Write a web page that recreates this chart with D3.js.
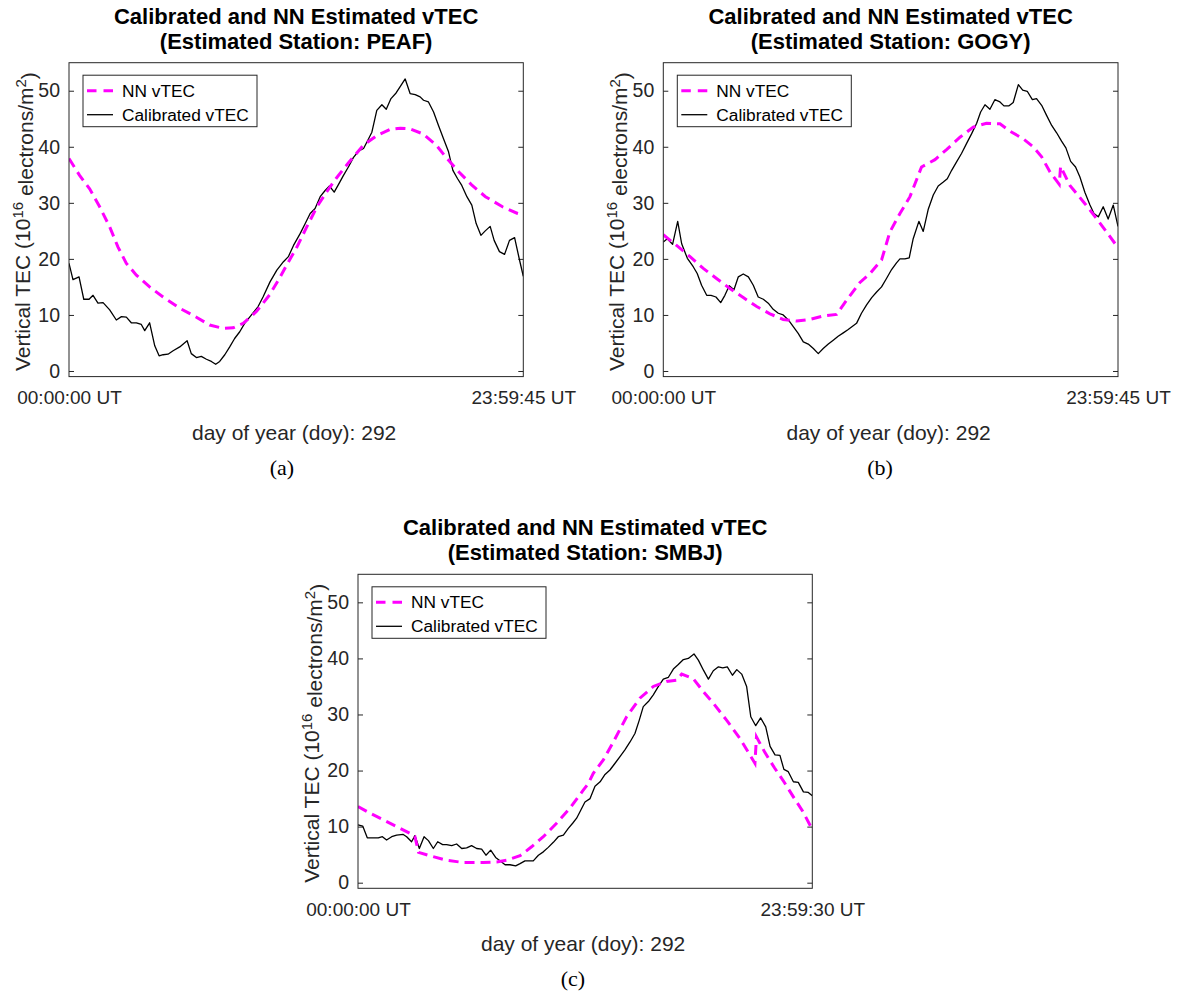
<!DOCTYPE html>
<html>
<head>
<meta charset="utf-8">
<script src="https://cdn.jsdelivr.net/npm/d3@7"></script>
<style>
  html, body { margin: 0; padding: 0; background: #fff; }
  svg { display: block; }
  text { font-family: "Liberation Sans", Arial, Helvetica, sans-serif; }
</style>
</head>
<body>
<svg id="chart" width="1177" height="999"></svg>
<script>
// ---------------- DATA ----------------
const yTicks = [0, 10, 20, 30, 40, 50];
const xTickLabelsAB = ["00:00:00 UT", "23:59:45 UT"];
const xTickLabelsC = ["00:00:00 UT", "23:59:30 UT"];
const titleLine1 = "Calibrated and NN Estimated vTEC";
const stations = ["PEAF", "GOGY", "SMBJ"];
const captions = ["(a)", "(b)", "(c)"];
const xLabel = "day of year (doy): 292";
const legendLabels = ["NN vTEC", "Calibrated vTEC"];

// Panel (a) PEAF - hours of day / vTEC
const aNNHour = [0, 0.56, 1.09, 1.62, 2.15, 2.59, 3.03, 3.56, 4.26, 4.97, 5.85, 6.73, 7.43, 8.14, 8.67, 9.2, 9.9, 10.6, 11.13, 11.5, 12.04, 12.56, 13.1, 13.6, 14.1, 14.8, 15.56, 16.26, 16.96, 17.5, 18.0, 18.7, 19.4, 19.9, 20.6, 21.3, 22.0, 22.9, 23.7, 24];
const aNNVal = [37.9, 34.9, 32.5, 29.3, 25.7, 22.1, 19.2, 17.1, 15.0, 13.2, 11.2, 9.6, 8.2, 7.6, 7.7, 8.5, 10.6, 13.6, 16.6, 18.9, 22.1, 25.7, 29.3, 31.9, 34.3, 37.3, 40.3, 42.0, 43.1, 43.3, 43.2, 42.3, 40.3, 38.2, 35.5, 33.1, 31.1, 29.3, 28.1, 27.8];
const aCalHour = [0, 0.21, 0.53, 0.78, 1.06, 1.27, 1.53, 1.8, 2.15, 2.5, 2.77, 3.03, 3.29, 3.56, 3.82, 4.0, 4.26, 4.53, 4.76, 4.97, 5.23, 5.5, 5.85, 6.24, 6.46, 6.73, 6.99, 7.26, 7.52, 7.75, 7.96, 8.23, 8.49, 8.75, 9.02, 9.28, 9.64, 9.99, 10.25, 10.62, 10.98, 11.33, 11.59, 11.86, 12.21, 12.48, 12.74, 13.0, 13.27, 13.53, 13.76, 14.01, 14.24, 14.5, 14.76, 15.03, 15.29, 15.56, 15.82, 16.0, 16.26, 16.53, 16.76, 17.01, 17.28, 17.53, 17.76, 18.02, 18.29, 18.55, 18.73, 18.99, 19.26, 19.52, 19.79, 20.05, 20.28, 20.53, 20.75, 21.02, 21.28, 21.51, 21.76, 21.99, 22.25, 22.46, 22.74, 23.01, 23.27, 23.54, 23.8, 24];
const aCalVal = [19.2, 16.3, 16.8, 12.8, 12.8, 13.5, 12.1, 12.2, 10.9, 9.1, 9.7, 9.6, 8.6, 8.6, 8.3, 7.2, 8.6, 4.5, 2.7, 2.9, 3.0, 3.6, 4.3, 5.4, 3.1, 2.4, 2.6, 2.1, 1.7, 1.2, 1.7, 2.9, 4.3, 5.8, 7.0, 8.5, 10.0, 11.5, 13.2, 15.9, 18.0, 19.5, 20.4, 22.4, 24.5, 26.3, 28.1, 29.0, 31.1, 32.2, 33.0, 31.9, 33.3, 34.9, 36.4, 38.1, 39.2, 39.7, 41.4, 42.6, 46.5, 47.5, 46.7, 48.6, 49.6, 50.9, 52.1, 49.5, 49.3, 48.9, 48.3, 48.0, 46.2, 43.8, 41.4, 39.1, 35.8, 34.3, 33.1, 31.1, 29.6, 26.3, 24.2, 25.0, 25.8, 23.3, 21.3, 20.8, 23.3, 23.8, 19.8, 16.9];

// Panel (b) GOGY
const bNNHour = [0, 0.7, 1.41, 2.11, 2.81, 3.52, 4.22, 4.93, 5.63, 6.33, 7.04, 7.74, 8.44, 9.15, 9.67, 10.38, 10.91, 11.52, 11.96, 12.49, 13.02, 13.63, 14.34, 14.95, 15.66, 16.36, 17.06, 17.77, 18.29, 19.0, 19.52, 19.97, 20.41, 20.9, 20.97, 21.46, 22.17, 22.87, 23.4, 23.85, 24];
const bNNVal = [24.3, 22.4, 20.4, 18.3, 16.5, 14.7, 13.1, 11.5, 10.2, 9.2, 8.9, 9.2, 9.8, 10.1, 12.6, 15.8, 17.4, 19.8, 24.8, 28.1, 31.1, 36.4, 37.7, 39.5, 41.7, 43.5, 44.2, 44.1, 42.8, 41.4, 40.0, 38.2, 35.5, 33.3, 36.5, 33.1, 30.2, 27.2, 24.8, 22.7, 22.1];
const bCalHour = [0, 0.21, 0.49, 0.76, 0.97, 1.27, 1.58, 1.79, 2.02, 2.29, 2.52, 2.78, 3.03, 3.25, 3.48, 3.73, 3.96, 4.22, 4.49, 4.75, 5.01, 5.28, 5.54, 5.8, 6.07, 6.33, 6.6, 6.86, 7.12, 7.39, 7.65, 7.92, 8.18, 8.44, 8.71, 8.97, 9.23, 9.5, 9.76, 10.2, 10.46, 10.73, 11.0, 11.26, 11.52, 11.78, 12.05, 12.31, 12.49, 12.75, 12.98, 13.19, 13.49, 13.72, 13.98, 14.25, 14.51, 14.78, 14.99, 15.22, 15.48, 15.74, 16.01, 16.27, 16.54, 16.75, 16.98, 17.24, 17.5, 17.77, 17.98, 18.25, 18.47, 18.74, 18.97, 19.21, 19.48, 19.7, 19.97, 20.23, 20.5, 20.76, 21.02, 21.25, 21.5, 21.76, 21.99, 22.25, 22.52, 22.73, 22.96, 23.22, 23.48, 23.75, 24];
const bCalVal = [23.0, 23.6, 22.6, 26.7, 22.7, 20.1, 18.6, 17.4, 15.3, 13.5, 13.5, 13.2, 12.2, 13.5, 15.2, 14.5, 16.8, 17.3, 16.8, 15.3, 13.2, 12.8, 12.1, 11.0, 10.3, 10.0, 9.1, 7.9, 6.7, 5.2, 4.8, 4.0, 3.1, 4.0, 4.8, 5.5, 6.2, 6.8, 7.4, 8.5, 10.3, 11.8, 13.1, 14.1, 15.0, 16.5, 18.1, 19.3, 20.0, 20.0, 20.2, 23.6, 26.7, 24.9, 28.8, 31.4, 33.0, 33.7, 34.3, 35.8, 37.3, 38.8, 40.6, 42.3, 44.2, 46.2, 47.5, 46.7, 48.4, 48.0, 47.3, 47.3, 47.9, 51.1, 50.1, 49.9, 48.4, 48.6, 47.4, 45.6, 43.8, 42.5, 41.0, 39.8, 37.4, 36.4, 34.6, 31.9, 29.6, 28.1, 27.5, 29.3, 27.1, 29.6, 25.8];

// Panel (c) SMBJ
const cNNHour = [0, 0.63, 1.34, 2.04, 2.75, 3.0, 3.2, 3.8, 4.68, 5.56, 6.62, 7.33, 7.85, 8.56, 9.17, 9.79, 10.49, 11.2, 11.9, 12.17, 12.43, 12.96, 13.49, 14.19, 14.89, 15.6, 16.3, 16.83, 17.1, 17.71, 18.24, 18.77, 19.47, 20.18, 20.97, 21.05, 21.5, 22.0, 22.5, 23.0, 23.5, 24];
const cNNVal = [13.6, 12.4, 11.2, 10.0, 8.8, 8.3, 5.4, 4.8, 4.0, 3.6, 3.6, 3.7, 4.0, 4.8, 6.4, 8.2, 10.6, 13.3, 16.5, 17.7, 19.5, 21.9, 25.1, 29.6, 32.9, 35.0, 35.9, 36.1, 37.2, 36.4, 34.1, 32.0, 29.0, 25.7, 21.3, 26.0, 23.2, 20.5, 18.0, 15.3, 12.7, 9.5];
const cCalHour = [0, 0.25, 0.49, 0.81, 1.07, 1.29, 1.51, 1.78, 2.04, 2.39, 2.57, 2.83, 3.01, 3.24, 3.49, 3.72, 3.98, 4.21, 4.47, 4.68, 4.95, 5.21, 5.48, 5.74, 6.0, 6.27, 6.53, 6.76, 7.01, 7.27, 7.5, 7.77, 8.03, 8.33, 8.56, 8.82, 9.26, 9.53, 9.79, 10.05, 10.32, 10.58, 10.85, 11.11, 11.34, 11.55, 11.78, 11.99, 12.26, 12.52, 12.79, 13.05, 13.31, 13.58, 13.84, 14.1, 14.37, 14.63, 14.86, 15.07, 15.34, 15.6, 15.87, 16.13, 16.39, 16.66, 16.92, 17.19, 17.45, 17.75, 17.98, 18.25, 18.51, 18.77, 19.04, 19.27, 19.51, 19.78, 20.01, 20.27, 20.53, 20.75, 21.01, 21.27, 21.54, 21.77, 22.03, 22.29, 22.5, 22.73, 23.0, 23.26, 23.53, 23.79, 24];
const cCalVal = [10.3, 10.1, 8.0, 8.0, 8.0, 8.2, 7.6, 8.2, 8.5, 8.6, 8.2, 7.3, 8.4, 6.1, 8.2, 7.5, 6.1, 7.3, 6.8, 6.8, 6.6, 6.9, 6.1, 6.2, 6.6, 6.1, 6.0, 4.9, 5.8, 4.5, 3.9, 3.2, 3.2, 3.0, 3.4, 3.9, 3.9, 4.9, 5.5, 6.3, 7.2, 8.2, 8.5, 9.7, 10.6, 11.5, 13.0, 14.4, 15.0, 17.2, 18.0, 19.3, 20.1, 21.3, 22.5, 23.7, 25.1, 26.6, 29.0, 31.4, 32.3, 33.5, 35.0, 36.3, 36.6, 38.1, 38.9, 39.8, 40.0, 40.8, 39.7, 37.9, 36.3, 37.8, 38.5, 38.3, 38.5, 37.0, 38.0, 37.2, 35.0, 29.6, 28.0, 29.4, 27.8, 24.3, 22.8, 22.7, 20.2, 19.8, 18.0, 17.9, 16.2, 16.1, 15.5];

// ---------------- DRAWING ----------------
const svg = d3.select("#chart");
const AXIS = "#262626";
const MAGENTA = "#ff00ff";

function drawPanel(p) {
  const x = d3.scaleLinear().domain([0, 24]).range([p.left, p.right]);
  const y = d3.scaleLinear().domain([-1, 55]).range([p.bottom, p.top]);
  const g = svg.append("g");
  const cx = (p.left + p.right) / 2;

  // Left axis
  const yl = g.append("g").attr("transform", `translate(${p.left},0)`)
    .call(d3.axisLeft(y).tickValues(yTicks).tickSizeInner(-5).tickSizeOuter(0).tickPadding(9));
  yl.select(".domain").remove();
  yl.selectAll("line").attr("stroke", AXIS);
  yl.selectAll("text").attr("fill", AXIS).style("font-size", "19.5px").attr("font-family", "Liberation Sans, Arial, sans-serif");

  // Right axis (ticks only)
  const yr = g.append("g").attr("transform", `translate(${p.right},0)`)
    .call(d3.axisRight(y).tickValues(yTicks).tickSizeInner(-5).tickSizeOuter(0).tickFormat(""));
  yr.select(".domain").remove();
  yr.selectAll("line").attr("stroke", AXIS);

  // Bottom axis
  const xb = g.append("g").attr("transform", `translate(0,${p.bottom})`)
    .call(d3.axisBottom(x).tickValues([0, 24]).tickSizeInner(0).tickSizeOuter(0).tickPadding(14)
      .tickFormat((d, i) => p.xTickLabels[i]));
  xb.select(".domain").remove();
  xb.selectAll("text").attr("fill", AXIS).style("font-size", "19px").attr("font-family", "Liberation Sans, Arial, sans-serif");

  // Lines
  const line = d3.line().x(d => x(d[0])).y(d => y(d[1]));
  const clipId = "clip" + p.id;
  svg.append("clipPath").attr("id", clipId).append("rect")
    .attr("x", p.left).attr("y", p.top).attr("width", p.right - p.left).attr("height", p.bottom - p.top);

  g.append("path").datum(d3.zip(p.calH, p.calV))
    .attr("clip-path", `url(#${clipId})`)
    .attr("d", line).attr("fill", "none").attr("stroke", "#000").attr("stroke-width", 1.3)
    .attr("stroke-linejoin", "round");
  g.append("path").datum(d3.zip(p.nnH, p.nnV))
    .attr("clip-path", `url(#${clipId})`)
    .attr("d", line).attr("fill", "none").attr("stroke", MAGENTA).attr("stroke-width", 3)
    .attr("stroke-dasharray", "10,6");

  // Box
  g.append("rect").attr("x", p.left).attr("y", p.top)
    .attr("width", p.right - p.left).attr("height", p.bottom - p.top)
    .attr("fill", "none").attr("stroke", AXIS).attr("stroke-width", 1);

  // Legend
  const lx = p.left + 14, ly = p.top + 12.5, lw = 174, lh = 51.5;
  const lg = g.append("g");
  lg.append("rect").attr("x", lx).attr("y", ly).attr("width", lw).attr("height", lh)
    .attr("fill", "#fff").attr("stroke", AXIS).attr("stroke-width", 1);
  const rows = [ly + 15.5, ly + 39.5];
  lg.append("line").attr("x1", lx + 4).attr("x2", lx + 30).attr("y1", rows[0]).attr("y2", rows[0])
    .attr("stroke", MAGENTA).attr("stroke-width", 3).attr("stroke-dasharray", "9.5,7");
  lg.append("line").attr("x1", lx + 4).attr("x2", lx + 30).attr("y1", rows[1]).attr("y2", rows[1])
    .attr("stroke", "#000").attr("stroke-width", 1.3);
  legendLabels.forEach((t, i) => {
    lg.append("text").attr("x", lx + 39).attr("y", rows[i]).attr("dy", "0.35em")
      .style("font-size", "17.3px").attr("fill", "#000").text(t);
  });

  // Title
  g.append("text").attr("x", cx).attr("y", p.top - 39).attr("text-anchor", "middle")
    .style("font-size", "22px").style("font-weight", "bold").attr("fill", "#000").text(titleLine1);
  g.append("text").attr("x", cx).attr("y", p.top - 14).attr("text-anchor", "middle")
    .style("font-size", "22px").style("font-weight", "bold").attr("fill", "#000")
    .text(`(Estimated Station: ${p.station})`);

  // X label
  g.append("text").attr("x", cx - 2).attr("y", p.bottom + 63).attr("text-anchor", "middle")
    .style("font-size", "21px").attr("fill", AXIS).text(xLabel);

  // Y label
  const ylab = g.append("text")
    .attr("transform", `translate(${p.left - 39},${(p.top + p.bottom) / 2 + 2}) rotate(-90)`)
    .attr("text-anchor", "middle").style("font-size", "21px").attr("fill", AXIS);
  ylab.append("tspan").text("Vertical TEC (10");
  ylab.append("tspan").attr("dy", "-0.5em").style("font-size", "15px").text("16");
  ylab.append("tspan").attr("dy", "0.5em").text(" electrons/m");
  ylab.append("tspan").attr("dy", "-0.5em").style("font-size", "15px").text("2");
  ylab.append("tspan").attr("dy", "0.5em").text(")");

  // Caption
  svg.append("text").attr("x", p.capX).attr("y", p.bottom + 98).attr("text-anchor", "middle")
    .style("font-size", "22px")
    .style("font-family", "'Liberation Serif', 'Times New Roman', serif")
    .attr("fill", "#000").text(p.caption);
}

drawPanel({ id: "a", left: 69, right: 523.3, top: 62.7, bottom: 376.6, nnH: aNNHour, nnV: aNNVal, calH: aCalHour, calV: aCalVal,
  station: stations[0], caption: captions[0], capX: 282, xTickLabels: xTickLabelsAB });
drawPanel({ id: "b", left: 663.3, right: 1118, top: 62.7, bottom: 376.6, nnH: bNNHour, nnV: bNNVal, calH: bCalHour, calV: bCalVal,
  station: stations[1], caption: captions[1], capX: 880, xTickLabels: xTickLabelsAB });
drawPanel({ id: "c", left: 358, right: 812.3, top: 574.3, bottom: 888.3, nnH: cNNHour, nnV: cNNVal, calH: cCalHour, calV: cCalVal,
  station: stations[2], caption: captions[2], capX: 573, xTickLabels: xTickLabelsC });
</script>
</body>
</html>
